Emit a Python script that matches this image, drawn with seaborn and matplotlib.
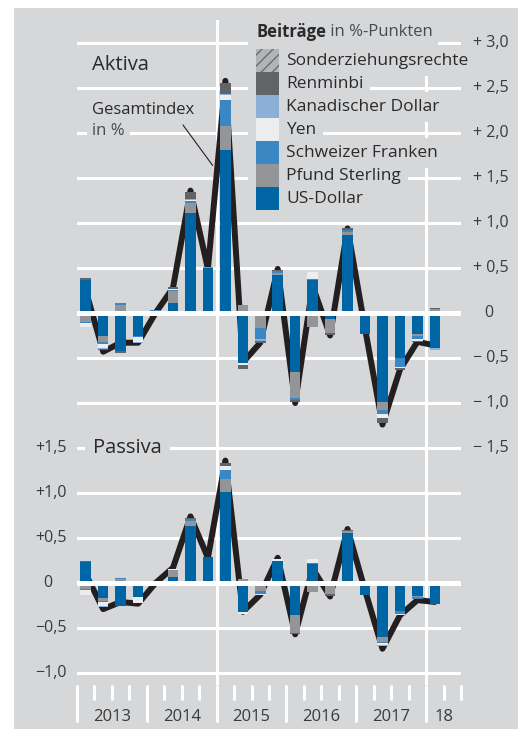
import numpy as np
import matplotlib
matplotlib.use("Agg")
import matplotlib.pyplot as plt
import seaborn as sns
from matplotlib.patches import Rectangle
from matplotlib.transforms import blended_transform_factory, offset_copy

# quarters 2013Q1 .. 2018Q1
quarters = list(range(21))
year_labels = ["2013", "2014", "2015", "2016", "2017", "18"]
year_centers = [1.5, 5.5, 9.5, 13.5, 17.5, 20.5]

currencies = ["US-Dollar", "Pfund Sterling", "Schweizer Franken", "Yen",
              "Kanadischer Dollar", "Renminbi", "Sonderziehungsrechte"]

# Aktiva: Beiträge in %-Punkten
akt_usd = [0.37, -0.26, -0.42, -0.26, 0.02, 0.11, 1.11, 0.50, 1.81, -0.56, 0.01,
           0.42, -0.65, 0.37, -0.07, 0.87, -0.23, -0.99, -0.50, -0.23, -0.39]
akt_gbp = [-0.10, -0.06, 0.09, 0.00, -0.01, 0.13, 0.11, 0.01, 0.27, 0.09, -0.17,
           0.03, -0.29, -0.16, -0.15, 0.03, 0.00, -0.09, 0.00, -0.03, 0.05]
akt_chf = [-0.01, -0.02, 0.02, -0.01, 0.01, 0.02, 0.03, 0.00, 0.29, 0.00, -0.12,
           0.02, -0.03, 0.01, 0.00, 0.02, 0.00, -0.04, -0.10, -0.03, 0.00]
akt_jpy = [-0.04, -0.05, 0.00, -0.05, 0.00, 0.01, 0.01, -0.01, 0.05, -0.02, 0.00,
           0.00, 0.00, 0.08, 0.00, -0.03, 0.00, -0.05, -0.01, -0.02, 0.00]
akt_cad = [0.00, -0.01, 0.00, -0.01, 0.00, 0.00, 0.01, 0.00, 0.01, 0.00, -0.02,
           0.00, 0.00, 0.00, 0.00, 0.00, 0.00, 0.00, 0.00, 0.00, -0.02]
akt_cny = [0.02, -0.01, -0.02, 0.00, 0.00, 0.02, 0.07, 0.00, 0.13, -0.04, -0.02,
           0.01, -0.02, 0.00, -0.02, 0.02, 0.00, -0.05, -0.02, -0.01, 0.01]
akt_sdr = [0.00, 0.00, 0.00, 0.00, 0.00, 0.00, 0.00, 0.00, 0.00, 0.00, 0.00,
           0.00, 0.00, 0.00, 0.00, 0.00, 0.00, 0.00, 0.00, 0.00, 0.00]
# Gesamtindex in %
akt_total = [0.25, -0.43, -0.33, -0.33, 0.00, 0.28, 1.36, 0.49, 2.58, -0.55, -0.33,
             0.49, -1.00, 0.30, -0.25, 0.94, -0.17, -1.24, -0.63, -0.32, -0.36]

# Passiva
pas_usd = [0.23, -0.17, -0.25, -0.15, 0.01, 0.07, 0.63, 0.29, 1.01, -0.32, 0.00,
           0.24, -0.36, 0.21, -0.03, 0.56, -0.13, -0.60, -0.31, -0.14, -0.23]
pas_gbp = [-0.07, -0.03, 0.05, 0.00, 0.00, 0.07, 0.06, 0.00, 0.15, 0.04, -0.09,
           0.00, -0.19, -0.10, -0.09, 0.02, 0.00, -0.05, 0.00, -0.02, 0.01]
pas_chf = [-0.01, -0.01, 0.01, -0.01, 0.00, 0.01, 0.02, 0.00, 0.10, 0.00, -0.03,
           0.01, 0.00, 0.01, 0.00, 0.00, 0.00, -0.02, -0.03, -0.02, 0.00]
pas_jpy = [-0.05, -0.04, 0.00, -0.06, 0.00, 0.01, 0.00, 0.00, 0.04, -0.02, -0.01,
           0.02, 0.00, 0.05, 0.00, 0.00, 0.00, -0.02, -0.01, 0.00, 0.00]
pas_cad = [0.00, -0.02, 0.00, 0.00, 0.00, 0.00, 0.00, 0.00, 0.00, 0.00, 0.00,
           0.00, 0.00, 0.00, 0.00, 0.00, 0.00, -0.01, 0.00, 0.00, 0.00]
pas_cny = [0.01, 0.00, -0.01, 0.00, 0.00, 0.00, 0.01, 0.00, 0.03, 0.00, 0.00,
           0.00, -0.02, 0.00, -0.02, 0.01, 0.00, 0.00, 0.00, 0.00, 0.00]
pas_sdr = [0.00, 0.00, 0.00, 0.00, 0.00, 0.00, 0.00, 0.00, 0.00, 0.00, 0.00,
           0.00, 0.00, 0.00, 0.00, 0.00, 0.00, 0.00, 0.00, 0.00, 0.00]
pas_total = [0.10, -0.29, -0.21, -0.23, 0.00, 0.17, 0.74, 0.28, 1.36, -0.32, -0.13,
             0.28, -0.57, 0.16, -0.15, 0.60, -0.08, -0.73, -0.36, -0.19, -0.21]

top_ticks = [3.0, 2.5, 2.0, 1.5, 1.0, 0.5, 0.0, -0.5, -1.0, -1.5]
top_tick_labels = ["+ 3,0", "+ 2,5", "+ 2,0", "+ 1,5", "+ 1,0", "+ 0,5", "0",
                   "\u2212 0,5", "\u2212 1,0", "\u2212 1,5"]
bot_ticks = [1.5, 1.0, 0.5, 0.0, -0.5, -1.0]
bot_tick_labels = ["+1,5", "+1,0", "+0,5", "0", "\u22120,5", "\u22121,0"]

BG = "#d6d7d9"
TXT = "#2b2a2a"
LBL = "#3a3a3a"
LINE = "#231f20"
HATCH = "#6c6d70"
colors = {
    "US-Dollar": "#0065a4",
    "Pfund Sterling": "#939598",
    "Schweizer Franken": "#3b87c3",
    "Yen": "#ecedef",
    "Kanadischer Dollar": "#8cafd7",
    "Renminbi": "#626366",
    "Sonderziehungsrechte": "#b3b4b6",
}

sns.set_theme(style="darkgrid", rc={
    "axes.facecolor": BG, "axes.edgecolor": BG, "figure.facecolor": "white",
    "grid.color": "white", "grid.linewidth": 2.2, "text.color": TXT,
    "hatch.color": HATCH, "hatch.linewidth": 1.0,
})
plt.rcParams["font.family"] = ["Open Sans", "DejaVu Sans"]

W, H = 518, 729


def fx(px):
    return px / W


def fy(py):
    return 1 - py / H


fig = plt.figure(figsize=(W / 100, H / 100), dpi=100)
fig.patches.append(Rectangle((fx(14), 0), 1 - fx(14), fy(8), transform=fig.transFigure,
                             facecolor=BG, edgecolor="none", zorder=-5))
ax_top = fig.add_axes([fx(77), fy(448), 384 / W, (448 - 20) / H])
ax_bot = fig.add_axes([fx(77), fy(685), 384 / W, (685 - 448) / H])


def draw_panel(ax, parts, total, yticks, ylim):
    pos_base = np.zeros(len(quarters))
    neg_base = np.zeros(len(quarters))
    for name, vals in zip(currencies, parts):
        vals = np.asarray(vals, dtype=float)
        base = np.where(vals >= 0, pos_base, neg_base)
        extra = {"hatch": "///", "edgecolor": HATCH} if name == "Sonderziehungsrechte" else {}
        sns.barplot(x=quarters, y=vals, bottom=base, native_scale=True, orient="x",
                    color=colors[name], saturation=1, width=0.6, errorbar=None,
                    linewidth=0, zorder=3, ax=ax, **extra)
        pos_base += np.clip(vals, 0, None)
        neg_base += np.clip(vals, None, 0)
    sns.lineplot(x=quarters, y=total, color=LINE, linewidth=4.3,
                 solid_joinstyle="round", solid_capstyle="round", zorder=2, ax=ax)
    ax.axhline(0, color="white", lw=3.6, zorder=4)
    for xv in (7.5, 19.5):
        ax.axvline(xv, color="white", lw=2.2, zorder=1)
    ax.set_xlim(-0.5, 21.5)
    ax.set_ylim(*ylim)
    ax.set_yticks(yticks)
    ax.grid(axis="x", visible=False)
    ax.grid(axis="y", visible=True)
    ax.set_axisbelow(True)
    ax.tick_params(axis="y", length=0, labelleft=False, labelright=False)
    ax.set_xlabel("")
    ax.set_ylabel("")
    for s in ax.spines.values():
        s.set_visible(False)


draw_panel(ax_top, [akt_usd, akt_gbp, akt_chf, akt_jpy, akt_cad, akt_cny, akt_sdr],
           akt_total, top_ticks, (-1.5, 3.256))
draw_panel(ax_bot, [pas_usd, pas_gbp, pas_chf, pas_jpy, pas_cad, pas_cny, pas_sdr],
           pas_total, bot_ticks, (-1.133, 1.5))

ax_top.tick_params(axis="x", bottom=False, labelbottom=False)

# x axis: year boundaries long, quarter boundaries short
bounds = np.arange(-0.5, 21.6, 1.0)
year_bounds = [-0.5, 3.5, 7.5, 11.5, 15.5, 19.5]
ax_bot.set_xticks(year_bounds)
ax_bot.set_xticks([b for b in bounds if b not in year_bounds], minor=True)
ax_bot.tick_params(axis="x", which="major", bottom=True, length=26.6, width=2.2,
                   color="white", direction="out", labelbottom=False)
ax_bot.tick_params(axis="x", which="minor", bottom=True, length=10.8, width=2.2,
                   color="white", direction="out", labelbottom=False)
xtrans = offset_copy(blended_transform_factory(ax_bot.transData, ax_bot.transAxes),
                     fig=fig, y=-23, units="points")
for xc, lab in zip(year_centers, year_labels):
    ax_bot.text(xc, 0, lab, transform=xtrans, ha="center", va="center",
                fontsize=12, color=LBL)

# y value labels, aligned on the decimal comma
for v, lab in zip(top_ticks, top_tick_labels):
    dx = 23 if lab == "0" else 34.6
    tr = offset_copy(blended_transform_factory(ax_top.transAxes, ax_top.transData),
                     fig=fig, x=dx, units="points")
    ax_top.text(1, v, lab, transform=tr, ha="right", va="center", fontsize=11.5,
                color=LBL)
for v, lab in zip(bot_ticks, bot_tick_labels):
    dx = -18 if lab == "0" else -7.2
    tr = offset_copy(blended_transform_factory(ax_bot.transAxes, ax_bot.transData),
                     fig=fig, x=dx, units="points")
    ax_bot.text(0, v, lab, transform=tr, ha="right", va="center", fontsize=11.5,
                color=LBL)

# key: grey backing, swatches, labels
ftr = fig.transFigure
ax_top.add_patch(Rectangle((fx(248), fy(212)), 38 / W, 170 / H, transform=ftr,
                           facecolor=BG, edgecolor="none", zorder=6, clip_on=False))
ax_top.add_patch(Rectangle((fx(248), fy(47)), 190 / W, 27 / H, transform=ftr,
                           facecolor=BG, edgecolor="none", zorder=6, clip_on=False))
legend_order = currencies[::-1]
for i, name in enumerate(legend_order):
    top = 49 + 23 * i
    sdr = name == "Sonderziehungsrechte"
    ax_top.add_patch(Rectangle((fx(256), fy(top + 23)), 23 / W, 23 / H, transform=ftr,
                               facecolor=colors[name], edgecolor=HATCH if sdr else "none",
                               hatch="///" if sdr else None, linewidth=0, zorder=7,
                               clip_on=False))
    ax_top.text(fx(286), fy(top + 12), name, transform=ftr, fontsize=12.5, ha="left",
                va="center", color=TXT, zorder=7,
                bbox=dict(facecolor=BG, edgecolor="none", boxstyle="square,pad=0.4"))

t1 = ax_top.text(fx(256), fy(32), "Beiträge", transform=ftr, fontsize=12,
                 fontweight="bold", ha="left", va="center", color=TXT, zorder=7)
ax_top.annotate(" in %-Punkten", xy=(1, 0.5), xycoords=t1, ha="left", va="center",
                fontsize=12, color="#4a4a4a", zorder=7)

box = dict(facecolor=BG, edgecolor="none", boxstyle="square,pad=0.4")
fig.text(fx(92), fy(65), "Aktiva", fontsize=14.5, fontweight="medium", ha="left",
         va="center", color=TXT)
fig.text(fx(93), fy(448), "Passiva", fontsize=14.5, fontweight="medium", ha="left",
         va="center", color=TXT, bbox=box)
fig.text(fx(92), fy(110), "Gesamtindex", fontsize=12, fontweight="medium", ha="left",
         va="center", color=TXT)
fig.text(fx(92), fy(131), "in %", fontsize=12, ha="left", va="center", color="#4a4a4a",
         bbox=dict(facecolor=BG, edgecolor="none", boxstyle="square,pad=0.3"))
ax_top.annotate("", xy=(7.27, 1.64), xycoords="data", xytext=(fx(183), fy(125)),
                textcoords="figure fraction",
                arrowprops=dict(arrowstyle="-", lw=0.8, color=LINE, shrinkA=0, shrinkB=0))

fig.savefig("out.png", dpi=100)
